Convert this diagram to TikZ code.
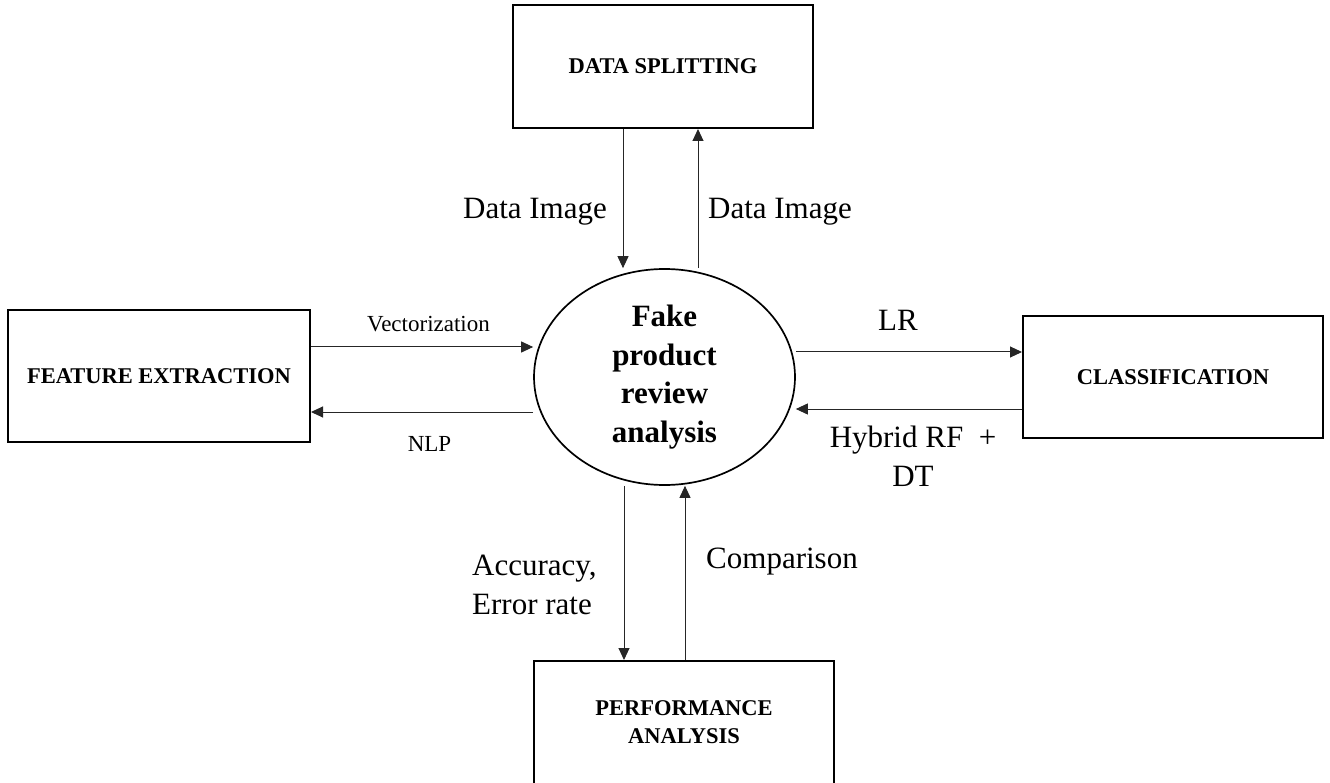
\documentclass[tikz,border=0pt]{standalone}
\usepackage{fontspec}
\setmainfont{Liberation Serif}
\usetikzlibrary{arrows.meta}
\usetikzlibrary{positioning}
\usetikzlibrary{shapes.geometric}
\tikzset {
  % process boxes round the hub
  procbox/.style = {
    draw = black,
    line width = 2pt,
    rectangle,
    minimum width = 300pt,
    minimum height = 123pt,
    inner sep = 0,
    align = center,
    font = \fontsize{22.5}{28}\selectfont\bfseries
  },
  % central process
  hub/.style = {
    draw = black,
    line width = 1.7pt,
    ellipse,
    minimum width = 261pt,
    minimum height = 216pt,
    inner sep = 0,
    align = center,
    font = \fontsize{31}{38.5}\selectfont\bfseries
  },
  % data flow
  flow/.style = {
    draw = black!85,
    line width = 1pt,
    -{Triangle[length=12pt,width=11pt]}
  },
  % flow labels
  lbl/.style = {
    inner sep = 0,
    align = center,
    font = \fontsize{31}{39}\selectfont
  },
  smalllbl/.style = {
    lbl,
    font = \fontsize{23}{28}\selectfont
  }
}

\begin{document}
\begin{tikzpicture}[x=1pt, y=-1pt]
    \useasboundingbox (0,0) rectangle (1330,783);

    \node[hub] (centre) at (664.5,377) {Fake\\product\\review\\analysis};

    \node[procbox] (split) at (663,66.5) {DATA SPLITTING};
    \node[procbox, minimum width = 302pt, minimum height = 132pt] (extract) at (159,376) {FEATURE EXTRACTION};
    \node[procbox, minimum height = 122pt] (classify) at (1173,377) {CLASSIFICATION};
    \node[procbox] (perform) at (684,722.5) {PERFORMANCE\\ANALYSIS};

    % lanes of the flows
    \coordinate (lane-vec) at (0,347);
    \coordinate (lane-nlp) at (0,412);
    \coordinate (lane-lr) at (0,352);
    \coordinate (lane-hyb) at (0,409);
    \coordinate (lane-down) at (623,0);
    \coordinate (lane-up) at (698,0);
    \coordinate (lane-acc) at (624,0);
    \coordinate (lane-cmp) at (685,0);

    % data splitting
    \draw[flow] (split.south -| lane-down) -- (centre.north -| lane-down);
    \draw[flow] (centre.north -| lane-up) -- (split.south -| lane-up);

    % feature extraction
    \draw[flow] (extract.east |- lane-vec) -- (centre.west |- lane-vec);
    \draw[flow] (centre.west |- lane-nlp) -- (extract.east |- lane-nlp);

    % classification
    \draw[flow] (centre.east |- lane-lr) -- (classify.west |- lane-lr);
    \draw[flow] (classify.west |- lane-hyb) -- (centre.east |- lane-hyb);

    % performance analysis
    \draw[flow] (centre.south -| lane-acc) -- (perform.north -| lane-acc);
    \draw[flow] (perform.north -| lane-cmp) -- (centre.south -| lane-cmp);

    % labels
    \node[lbl] (datain) at (535,212) {Data Image};
    \node[lbl] (dataout) at (780,212) {Data Image};
    \node[smalllbl] (vec) at (428.5,324) {Vectorization};
    \node[smalllbl] (nlp) at (429.5,444) {NLP};
    \node[lbl] (lr) at (898,320) {LR};
    \node[lbl] (hyb) at (913,456) {Hybrid RF~~+\\DT};
    \node[lbl, align = left, anchor = west] (acc) at (472,585) {Accuracy,\\Error rate};
    \node[lbl] (cmp) at (782,562) {Comparison};
\end{tikzpicture}
\end{document}
